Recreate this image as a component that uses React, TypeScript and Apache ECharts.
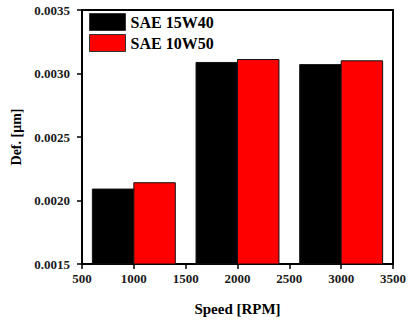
import React, { useEffect, useRef } from "react";
import * as echarts from "echarts";

const speeds = [1000, 2000, 3000];
const sae15w40 = [0.00209, 0.003087, 0.00307];
const sae10w50 = [0.00214, 0.00311, 0.0031];
const seriesNames = ["SAE 15W40", "SAE 10W50"];
const BAR_SPAN = 400;

const FONT = "'Liberation Serif', 'Times New Roman', serif";

function makeRender(dir: number) {
  return (params: any, api: any) => {
    const x = api.value(0);
    const v = api.value(1);
    const p0 = api.coord([dir < 0 ? x - BAR_SPAN : x, v]);
    const p1 = api.coord([dir < 0 ? x : x + BAR_SPAN, 0.0015]);
    return {
      type: "rect",
      shape: { x: p0[0], y: p0[1], width: p1[0] - p0[0], height: p1[1] - p0[1] },
      style: { fill: api.visual("color"), stroke: "#111", lineWidth: 1 },
    };
  };
}

export default function App() {
  const ref = useRef<HTMLDivElement>(null);
  useEffect(() => {
    const chart = echarts.init(ref.current!, null, { renderer: "svg" });
    const axisLabel = { color: "#1a1a1a", fontFamily: FONT, fontWeight: "bold" as const, fontSize: 13 };
    chart.setOption({
      animation: false,
      backgroundColor: "#fff",
      grid: { left: 82, right: 11, top: 10, bottom: 53, show: true, borderColor: "#000", borderWidth: 2 },
      legend: {
        orient: "vertical",
        left: 89,
        top: 13,
        padding: 0,
        itemWidth: 36,
        itemHeight: 17,
        itemGap: 3,
        icon: "rect",
        itemStyle: { borderColor: "#333", borderWidth: 1 },
        textStyle: { fontFamily: FONT, fontWeight: "bold", fontSize: 16, color: "#000" },
        data: seriesNames,
      },
      xAxis: {
        type: "value",
        min: 500,
        max: 3500,
        interval: 500,
        name: "Speed [RPM]",
        nameLocation: "middle",
        nameGap: 37,
        nameTextStyle: { fontFamily: FONT, fontWeight: "bold", fontSize: 15, color: "#000" },
        axisLine: { show: true, lineStyle: { color: "#000", width: 2 } },
        axisTick: { show: true, inside: false, length: 5, lineStyle: { color: "#000", width: 1.5 } },
        axisLabel: { ...axisLabel, margin: 8, formatter: (v: number) => String(v) },
        splitLine: { show: false },
      },
      yAxis: {
        type: "value",
        min: 0.0015,
        max: 0.0035,
        interval: 0.0005,
        name: "Def. [μm]",
        nameLocation: "middle",
        nameGap: 59,
        nameTextStyle: { fontFamily: FONT, fontWeight: "bold", fontSize: 14, color: "#000" },
        axisLine: { show: true, lineStyle: { color: "#000", width: 2 } },
        axisTick: { show: true, inside: false, length: 5, lineStyle: { color: "#000", width: 1.5 } },
        axisLabel: { ...axisLabel, margin: 12, formatter: (v: number) => v.toFixed(4) },
        splitLine: { show: false },
      },
      series: [
        {
          name: seriesNames[0],
          type: "custom",
          itemStyle: { color: "#000000" },
          encode: { x: 0, y: 1 },
          renderItem: makeRender(-1),
          data: speeds.map((s, i) => [s, sae15w40[i]]),
        },
        {
          name: seriesNames[1],
          type: "custom",
          itemStyle: { color: "#ff0000" },
          encode: { x: 0, y: 1 },
          renderItem: makeRender(1),
          data: speeds.map((s, i) => [s, sae10w50[i]]),
        },
      ],
    });
    return () => chart.dispose();
  }, []);
  return (
    <div
      ref={ref}
      style={{ position: "fixed", left: 0, top: 0, width: 409, height: 321, background: "#fff" }}
    />
  );
}
